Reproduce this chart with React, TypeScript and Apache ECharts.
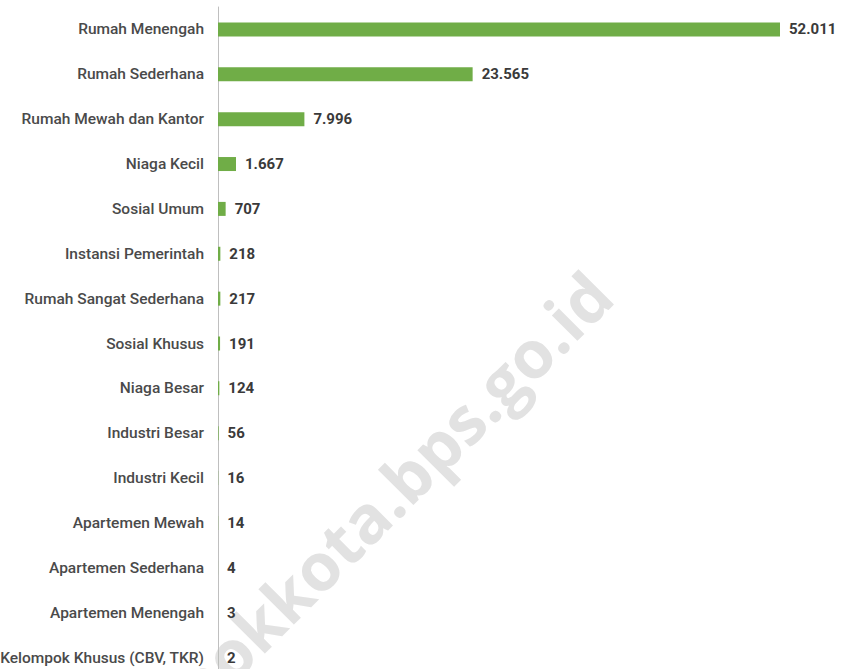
import React, { useEffect, useRef } from "react";
import * as echarts from "echarts";

const categories = [
  "Rumah Menengah",
  "Rumah Sederhana",
  "Rumah Mewah dan Kantor",
  "Niaga Kecil",
  "Sosial Umum",
  "Instansi Pemerintah",
  "Rumah Sangat Sederhana",
  "Sosial Khusus",
  "Niaga Besar",
  "Industri Besar",
  "Industri Kecil",
  "Apartemen Mewah",
  "Apartemen Sederhana",
  "Apartemen Menengah",
  "Kelompok Khusus (CBV, TKR)",
];
const values = [52011, 23565, 7996, 1667, 707, 218, 217, 191, 124, 56, 16, 14, 4, 3, 2];
const watermark = "depokkota.bps.go.id";

function fmt(v: number): string {
  return String(v).replace(/\B(?=(\d{3})+(?!\d))/g, ".");
}

export default function App() {
  const ref = useRef<HTMLDivElement>(null);
  useEffect(() => {
    if (!ref.current) return;
    const chart = echarts.init(ref.current, null, { renderer: "svg" });
    const font = "Roboto, 'Liberation Sans', sans-serif";
    chart.setOption({
      animation: false,
      backgroundColor: "#ffffff",
      graphic: [
        {
          type: "text",
          rotation: Math.PI / 4,
          position: [104, 731],
          style: {
            text: watermark,
            fill: "#e2e2e2",
            font: "bold 66px 'Open Sans', sans-serif",
          },
          silent: true,
          z: -1,
        },
      ],
      grid: {
        left: 218,
        top: 7,
        right: 64,
        bottom: -11,
        containLabel: false,
        outerBoundsMode: "none",
      },
      xAxis: {
        type: "value",
        min: 0,
        max: 52011,
        show: false,
      },
      yAxis: {
        type: "category",
        data: categories,
        inverse: true,
        axisLine: { show: true, lineStyle: { color: "#bfbfbf", width: 1 } },
        axisTick: { show: false },
        axisLabel: {
          margin: 14,
          fontFamily: font,
          fontSize: 15.5,
          fontWeight: 500,
          color: "#4a4a4a",
        },
      },
      series: [
        {
          type: "bar",
          data: values,
          barWidth: 14,
          itemStyle: { color: "#70ad47" },
          label: {
            show: true,
            position: "right",
            distance: 9,
            fontFamily: font,
            fontSize: 15,
            fontWeight: "bold",
            color: "#3a3a3a",
            formatter: (p: any) => fmt(p.value),
          },
        },
      ],
    });
    return () => chart.dispose();
  }, []);
  return (
    <div
      ref={ref}
      style={{ position: "fixed", left: 0, top: 0, width: 844, height: 669 }}
    />
  );
}
